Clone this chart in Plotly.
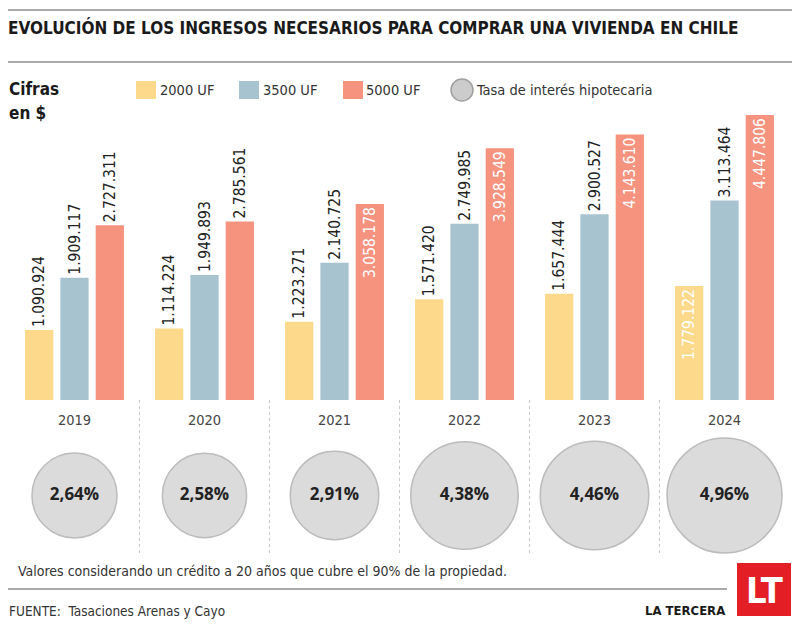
import plotly.graph_objects as go

# ---- data ----
years = ["2019", "2020", "2021", "2022", "2023", "2024"]
uf2000 = [1090924, 1114224, 1223271, 1571420, 1657444, 1779122]
uf3500 = [1909117, 1949893, 2140725, 2749985, 2900527, 3113464]
uf5000 = [2727311, 2785561, 3058178, 3928549, 4143610, 4447806]
tasa = [2.64, 2.58, 2.91, 4.38, 4.46, 4.96]
tasa_labels = ["2,64%", "2,58%", "2,91%", "4,38%", "4,46%", "4,96%"]
series_names = ["2000 UF", "3500 UF", "5000 UF"]
title = "EVOLUCIÓN DE LOS INGRESOS NECESARIOS PARA COMPRAR UNA VIVIENDA EN CHILE"
note = "Valores considerando un crédito a 20 años que cubre el 90% de la propiedad."
source = "FUENTE:  Tasaciones Arenas y Cayo"

# the page body has an 8px margin: size the figure so it fills the window exactly
OFF = 8
W, H = 800 - OFF, 627 - OFF
NARROW = "DejaVu Sans Condensed, Liberation Sans Narrow, sans-serif"
WIDE = "Open Sans, DejaVu Sans, sans-serif"
colors = ["#FDD98B", "#A8C3D0", "#F5937F"]


def fmt(v):
    return f"{v:,}".replace(",", ".")


def px(x):
    return (x - OFF) / W


def py(y):
    return 1 - (y - OFF) / H


fig = go.Figure()

all_series = [uf2000, uf3500, uf5000]
for name, vals, col in zip(series_names, all_series, colors):
    positions = []
    tcolors = []
    for i, v in enumerate(vals):
        inside = (name == "5000 UF" and i >= 2) or (name == "2000 UF" and i == 5)
        positions.append("inside" if inside else "outside")
        tcolors.append("white" if inside else "#222222")
    fig.add_trace(go.Bar(
        x=years, y=vals, name=name, marker=dict(color=col, line=dict(width=0)),
        text=[fmt(v) for v in vals], textposition=positions, textangle=-90,
        insidetextanchor="end", constraintext="none", cliponaxis=False,
        textfont=dict(family=NARROW, size=15.5, color=tcolors),
        showlegend=False, hoverinfo="skip",
    ))

fig.add_trace(go.Scatter(
    x=years, y=[0.5] * len(years), yaxis="y2", mode="markers+text",
    marker=dict(size=[51 + 12.9 * t for t in tasa], color="#CCCCCC",
                line=dict(color="#A0A0A0", width=1.5)),
    text=tasa_labels, textposition="middle center",
    textfont=dict(family=WIDE, size=17, color="#222222", weight="bold"),
    showlegend=False, hoverinfo="skip", cliponaxis=False,
))

scale = 15610
fig.update_layout(
    width=W, height=H, margin=dict(l=0, r=0, t=0, b=0),
    paper_bgcolor="white", plot_bgcolor="rgba(0,0,0,0)",
    barmode="group", bargap=0.185, bargroupgap=0.2,
    xaxis=dict(domain=[px(9.5), px(789.5)], range=[-0.5, 5.5], type="category",
               showgrid=False, zeroline=False, showline=False, ticks="",
               tickfont=dict(family=NARROW, size=14.5, color="#444444"),
               ticklabelstandoff=9, automargin=False, fixedrange=True),
    yaxis=dict(domain=[py(400), py(100)], range=[0, 300 * scale], visible=False,
               fixedrange=True),
    yaxis2=dict(domain=[py(555), py(436)], range=[0, 1], visible=False,
                anchor="x", fixedrange=True),
)

shapes = []
# horizontal rules
for y, x1 in [(10, 792), (62, 792), (589, 727)]:
    shapes.append(dict(type="line", xref="paper", yref="paper", x0=px(8), x1=px(x1),
                       y0=py(y), y1=py(y), line=dict(color="#AAAAAA", width=2)))
# dotted separators between years
for i in range(len(years) - 1):
    shapes.append(dict(type="line", xref="x", yref="paper", x0=i + 0.5, x1=i + 0.5,
                       y0=py(400), y1=py(553), line=dict(color="#C8C8C8", width=1, dash="dot")))
# legend swatches
for (x0, x1), col in zip([(136, 156), (239, 259), (343, 363)], colors):
    shapes.append(dict(type="rect", xref="paper", yref="paper", x0=px(x0), x1=px(x1),
                       y0=py(99), y1=py(81), fillcolor=col, line=dict(width=0)))
shapes.append(dict(type="circle", xref="paper", yref="paper", x0=px(451), x1=px(473),
                   y0=py(101), y1=py(79), fillcolor="#CCCCCC",
                   line=dict(color="#A0A0A0", width=1.5)))
# logo box
shapes.append(dict(type="rect", xref="paper", yref="paper", x0=px(737), x1=px(791),
                   y0=py(616), y1=py(563), fillcolor="#E31E24", line=dict(width=0)))
fig.update_layout(shapes=shapes)

ann = []


def text(x, y, s, size, color="#333333", family=NARROW, bold=False, xanchor="left"):
    ann.append(dict(xref="paper", yref="paper", x=px(x), y=py(y), text=s, showarrow=False,
                    xanchor=xanchor, yanchor="middle",
                    font=dict(family=family, size=size, color=color,
                              weight="bold" if bold else "normal")))


text(6, 28, title, 17, "#1A1A1A", bold=True)
text(7, 89, "Cifras", 17, "#1A1A1A", bold=True)
text(7, 113, "en $", 17, "#1A1A1A", bold=True)
for x, s in zip([158, 261, 364], series_names):
    text(x, 90, s, 14.5, "#333333")
text(474, 90, "Tasa de interés hipotecaria", 14.5, "#333333")
text(16, 571, note, 14, "#333333")
text(7, 611, source, 13.5, "#333333")
text(727, 610, "LA TERCERA", 13, "#1A1A1A", bold=True, xanchor="right")
text(764, 590, "LT", 36, "white", bold=True, xanchor="center")
fig.update_layout(annotations=ann)

fig.write_html("out.html")
